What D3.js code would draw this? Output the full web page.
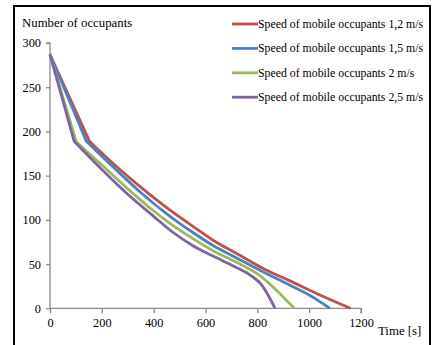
<!DOCTYPE html>
<html>
<head>
<meta charset="utf-8">
<script src="https://cdn.jsdelivr.net/npm/d3@7"></script>
<style>
  body { margin: 0; background: #fff; }
  svg { display: block; }
</style>
</head>
<body>
<svg id="chart" width="434" height="345" font-family="Liberation Serif"></svg>
<script>
// series data: [time s, number of occupants]
const seriesNames = [
    "Speed of mobile occupants 1,2 m/s",
    "Speed of mobile occupants 1,5 m/s",
    "Speed of mobile occupants 2 m/s",
    "Speed of mobile occupants 2,5 m/s"
];
const seriesColors = ["#C0504D", "#4F81BD", "#9BBB59", "#8064A2"];
const speed12 = [[0,287],[152,189],[250,162],[350,137],[463,111],[550,93],[629,77],[720,62],[836,43],[926,31],[1050,14],[1160,0]];
const speed15 = [[0,287],[140,189],[250,158],[350,131],[463,104],[550,86],[629,71],[720,57],[810,43],[926,26],[1000,15],[1080,0]];
const speed20 = [[0,287],[102,188],[200,162],[300,135],[400,110],[463,96],[550,79],[629,65],[720,52],[810,37],[875,20],[912,9],[943,0]];
const speed25 = [[0,287],[93,189],[200,157],[300,129],[400,104],[474,86],[550,71],[629,59],[720,46],[775,37],[815,27],[845,13],[868,0]];
const allSeries = [speed12, speed15, speed20, speed25];

const xTicks = [0, 200, 400, 600, 800, 1000, 1200];
const yTicks = [0, 50, 100, 150, 200, 250, 300];

const FONT = "Liberation Serif";
const svg = d3.select("#chart");

//outer frame
svg.append("rect")
    .attr("x", 14).attr("y", 6)
    .attr("width", 416).attr("height", 345)
    .attr("fill", "none")
    .attr("stroke", "#000")
    .attr("stroke-width", 2);

const x = d3.scaleLinear().domain([0, 1200]).range([50, 361]);
const y = d3.scaleLinear().domain([0, 300]).range([308.3, 43]);

//axes
const xAxis = svg.append("g")
    .attr("transform", `translate(0,${y(0)})`)
    .call(d3.axisBottom(x).tickValues(xTicks).tickFormat(d3.format("d")).tickSize(5).tickPadding(5));
const yAxis = svg.append("g")
    .attr("transform", `translate(${x(0)},0)`)
    .call(d3.axisLeft(y).tickValues(yTicks).tickFormat(d3.format("d")).tickSize(4).tickPadding(5));
[xAxis, yAxis].forEach(a => {
    a.attr("font-family", FONT).attr("font-size", 12.3);
    a.select(".domain").attr("stroke", "#8c8c8c").attr("stroke-width", 1.3);
    a.selectAll(".tick line").attr("stroke", "#8c8c8c").attr("stroke-width", 1.3);
    a.selectAll("text").attr("fill", "#000");
});
yAxis.select(".domain").attr("d", `M-4,${y(300)}H0V${y(0)}`);
xAxis.select(".domain").attr("d", `M${x(0)},0H${x(1200)}V5`);

//lines: straight first drop to the knee, smooth afterwards
const smooth = d3.line()
    .x(d => x(d[0]))
    .y(d => y(d[1]))
    .curve(d3.curveMonotoneX);
const straight = d3.line()
    .x(d => x(d[0]))
    .y(d => y(d[1]));
svg.append("g").selectAll("path")
    .data(allSeries)
    .join("path")
    .attr("d", d => straight(d.slice(0, 2)) + smooth(d.slice(1)).replace(/^M[^LC]*/, ""))
    .attr("fill", "none")
    .attr("stroke", (d, i) => seriesColors[i])
    .attr("stroke-width", 2.8)
    .attr("stroke-linejoin", "round");

//axis titles
svg.append("text")
    .attr("x", 22).attr("y", 27)
    .attr("font-size", 12.8)
    .text("Number of occupants");
svg.append("text")
    .attr("x", 378).attr("y", 335)
    .attr("font-size", 12.8)
    .text("Time [s]");

//legend
const legend = svg.append("g").selectAll("g")
    .data(seriesNames)
    .join("g")
    .attr("transform", (d, i) => `translate(232,${24 + i * 24.4})`);
legend.append("line")
    .attr("x1", 0).attr("x2", 26)
    .attr("stroke", (d, i) => seriesColors[i])
    .attr("stroke-width", 2.8);
legend.append("text")
    .attr("x", 26).attr("y", 4)
    .attr("font-size", 11.8)
    .text(d => d);
</script>
</body>
</html>
